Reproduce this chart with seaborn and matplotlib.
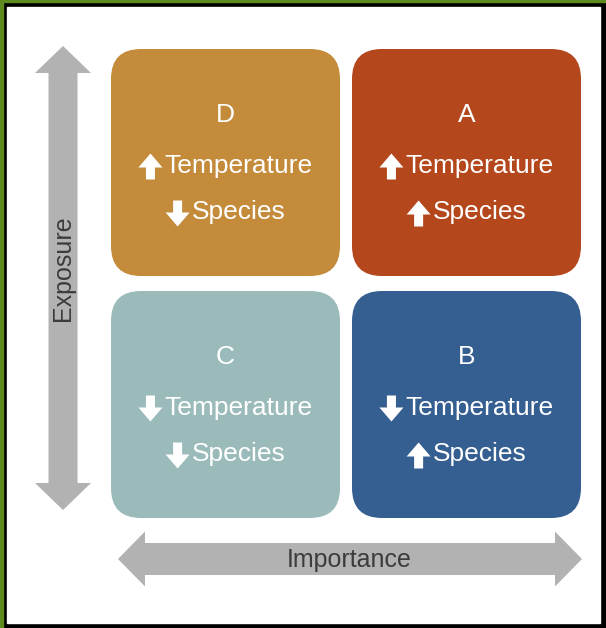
import matplotlib
matplotlib.use("Agg")
import matplotlib.pyplot as plt
from matplotlib.patches import FancyBboxPatch, Polygon, Rectangle
import seaborn as sns

# quadrant content
quadrants = ["D", "A", "C", "B"]
temperature = ["up", "up", "down", "down"]
species = ["down", "up", "down", "up"]
box_colors = ["#C48B3B", "#B4471B", "#9BBBBB", "#355E91"]
x_label = "Importance"
y_label = "Exposure"

sns.set_theme(style="white")
plt.rcParams["font.family"] = ["Liberation Sans", "DejaVu Sans"]

arrow_grey = "#B2B2B2"
label_col = "#3C3C3C"

fig = plt.figure(figsize=(6.06, 6.28), dpi=100, facecolor="black")
ax = fig.add_axes([0, 0, 1, 1])
ax.set_xlim(0, 606)
ax.set_ylim(628, 0)
ax.axis("off")

# frame: green edge, black border, white panel
ax.add_patch(Rectangle((0, 0), 606, 628, color="black"))
ax.add_patch(Rectangle((0, 0), 606, 2, color="#5E8A1E"))
ax.add_patch(Rectangle((0, 0), 3, 628, color="#5E8A1E"))
ax.add_patch(Rectangle((7, 7), 593, 616, color="white"))

renderer = fig.canvas.get_renderer()


def block_arrow(cx, cy, direction, length=26, head=14, hw=12, sw=4.5, color="white"):
    s = -1 if direction == "up" else 1   # y axis points down
    tip = cy + s * length / 2
    base = cy - s * length / 2
    neck = tip - s * head
    pts = [(cx, tip), (cx + hw, neck), (cx + sw, neck), (cx + sw, base),
           (cx - sw, base), (cx - sw, neck), (cx - hw, neck)]
    ax.add_patch(Polygon(pts, closed=True, fc=color, ec="none"))


def arrow_word(x, y, direction, word):
    # word shifted right so arrow + word sit centred together
    t = ax.text(x + 13, y, word, color="white", fontsize=19, ha="center", va="center")
    bb = t.get_window_extent(renderer).transformed(ax.transData.inverted())
    left = min(bb.x0, bb.x1)
    block_arrow(left - 14, y + 1, direction)


# 2x2 rounded boxes
col_x = [111, 352]
row_y = [49, 291]
w, h = 229, 227
for i, (lab, t, s, c) in enumerate(zip(quadrants, temperature, species, box_colors)):
    x0 = col_x[i % 2]
    y0 = row_y[i // 2]
    ax.add_patch(FancyBboxPatch((x0, y0), w, h,
                                boxstyle="round,pad=0,rounding_size=30",
                                fc=c, ec="none"))
    cx = x0 + w / 2
    cy = y0 + h / 2
    ax.text(cx, cy - 47, lab, color="white", fontsize=19, ha="center", va="center")
    arrow_word(cx, cy + 3, t, "Temperature")
    arrow_word(cx, cy + 50, s, "Species")

# vertical double arrow (Exposure)
vx, top, bot = 63, 46, 510
sw, hw, hl = 14.5, 28, 27
ax.add_patch(Polygon([
    (vx, top), (vx + hw, top + hl), (vx + sw, top + hl), (vx + sw, bot - hl),
    (vx + hw, bot - hl), (vx, bot), (vx - hw, bot - hl), (vx - sw, bot - hl),
    (vx - sw, top + hl), (vx - hw, top + hl)], closed=True, fc=arrow_grey, ec="none"))
ax.text(vx, 268, y_label, rotation=90, color=label_col, fontsize=18,
        ha="center", va="center")

# horizontal double arrow (Importance)
hy, left, right = 559, 118, 582
sh, hh = 16, 27.5
ax.add_patch(Polygon([
    (left, hy), (left + hl, hy - hh), (left + hl, hy - sh), (right - hl, hy - sh),
    (right - hl, hy - hh), (right, hy), (right - hl, hy + hh), (right - hl, hy + sh),
    (left + hl, hy + sh), (left + hl, hy + hh)], closed=True, fc=arrow_grey, ec="none"))
ax.text(349, 560, x_label, color=label_col, fontsize=18, ha="center", va="center")

fig.savefig("out.png", dpi=100, facecolor=fig.get_facecolor())
